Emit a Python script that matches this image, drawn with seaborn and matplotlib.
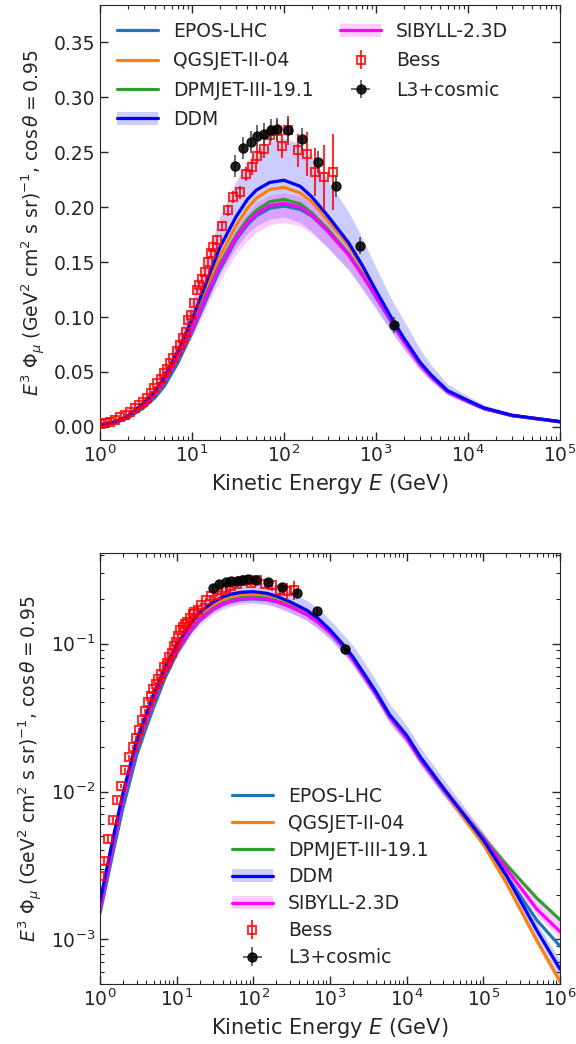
import numpy as np
import pandas as pd
import matplotlib
matplotlib.use('Agg')
import matplotlib.pyplot as plt
import seaborn as sns
from matplotlib.patches import Patch
from matplotlib.lines import Line2D
from matplotlib.ticker import FormatStrFormatter

# model energies (GeV)
energy = [1, 1.5, 2, 3, 4, 5, 7, 10, 15, 20, 30, 40, 50, 70, 100, 150, 200, 300, 500, 700,
          1e3, 1.5e3, 2e3, 3e3, 4e3, 6e3, 1e4, 1.5e4, 3e4, 1e5, 2e5, 5e5, 1e6]

# E^3 flux for each hadronic model
epos = [0.0015, 0.0040, 0.0078, 0.0175, 0.027, 0.037, 0.058, 0.086, 0.120, 0.143, 0.170, 0.184,
        0.192, 0.199, 0.201, 0.198, 0.192, 0.178, 0.157, 0.139, 0.118, 0.094, 0.078, 0.057,
        0.0455, 0.032, 0.023, 0.0165, 0.0102, 0.0046, 0.0027, 0.00135, 0.0009]
qgsjet = [0.0017, 0.0048, 0.0094, 0.021, 0.0315, 0.043, 0.066, 0.094, 0.130, 0.155, 0.183, 0.199,
          0.208, 0.216, 0.218, 0.213, 0.205, 0.188, 0.165, 0.146, 0.122, 0.096, 0.080, 0.058,
          0.046, 0.0325, 0.0235, 0.0168, 0.0103, 0.0044, 0.0024, 0.00098, 0.00052]
dpmjet = [0.0017, 0.0046, 0.0091, 0.0205, 0.0305, 0.042, 0.064, 0.091, 0.125, 0.148, 0.174, 0.189,
          0.197, 0.205, 0.207, 0.203, 0.195, 0.180, 0.158, 0.140, 0.119, 0.095, 0.078, 0.057,
          0.0455, 0.032, 0.023, 0.0166, 0.0104, 0.0049, 0.0032, 0.0019, 0.00136]
sibyll = [0.0016, 0.0045, 0.0089, 0.020, 0.030, 0.041, 0.063, 0.089, 0.123, 0.146, 0.172, 0.186,
          0.194, 0.2015, 0.2035, 0.200, 0.193, 0.178, 0.157, 0.139, 0.119, 0.095, 0.078, 0.057,
          0.0455, 0.032, 0.023, 0.0166, 0.0104, 0.0048, 0.0030, 0.0016, 0.00113]
sibyll_lo = [0.0015, 0.0041, 0.0081, 0.0183, 0.0275, 0.0375, 0.0575, 0.081, 0.112, 0.133, 0.157,
             0.170, 0.177, 0.184, 0.186, 0.183, 0.176, 0.163, 0.144, 0.127, 0.109, 0.087, 0.071,
             0.052, 0.0415, 0.029, 0.021, 0.0152, 0.0095, 0.0044, 0.0027, 0.00145, 0.00102]
sibyll_hi = [0.0017, 0.0047, 0.0093, 0.021, 0.0315, 0.043, 0.066, 0.094, 0.129, 0.153, 0.181,
             0.195, 0.204, 0.211, 0.213, 0.210, 0.203, 0.187, 0.165, 0.146, 0.125, 0.100, 0.082,
             0.060, 0.048, 0.0337, 0.0243, 0.0176, 0.0111, 0.0053, 0.0034, 0.0019, 0.00132]
ddm = [0.0018, 0.0050, 0.0098, 0.022, 0.033, 0.045, 0.069, 0.098, 0.136, 0.163, 0.191, 0.207,
       0.2155, 0.2225, 0.2245, 0.219, 0.2095, 0.192, 0.168, 0.148, 0.124, 0.098, 0.081, 0.059,
       0.047, 0.033, 0.024, 0.0172, 0.0106, 0.0047, 0.0027, 0.00115, 0.00063]
ddm_lo = [0.0015, 0.0043, 0.0083, 0.0187, 0.028, 0.038, 0.0585, 0.083, 0.116, 0.139, 0.163, 0.176,
          0.183, 0.189, 0.191, 0.186, 0.178, 0.163, 0.143, 0.126, 0.107, 0.085, 0.071, 0.052,
          0.0415, 0.029, 0.0212, 0.0152, 0.0094, 0.0042, 0.0024, 0.00100, 0.00054]
ddm_hi = [0.0021, 0.0058, 0.0115, 0.026, 0.0385, 0.053, 0.081, 0.115, 0.159, 0.191, 0.223, 0.242,
          0.252, 0.260, 0.263, 0.257, 0.246, 0.224, 0.196, 0.173, 0.145, 0.115, 0.097, 0.071,
          0.056, 0.039, 0.028, 0.020, 0.0122, 0.0053, 0.0030, 0.0013, 0.00072]

# Bess data
bess_E = [1.0, 1.13, 1.28, 1.46, 1.65, 1.87, 2.12, 2.40, 2.68, 2.96, 3.21, 3.55, 3.86, 4.2, 4.57,
          4.97, 5.31, 5.77, 6.26, 6.81, 7.40, 7.92, 8.6, 9.1, 9.66, 10.5, 11.2, 12.0, 12.7, 13.8,
          14.8, 16.1, 17.0, 18.7, 21.0, 24.4, 28.1, 33.2, 38.6, 44.4, 51.5, 60.6, 70.6, 83.6,
          94.3, 111, 141, 176, 220, 275, 343]
bess_flux = [0.0027, 0.0034, 0.0048, 0.0064, 0.0088, 0.0109, 0.0139, 0.017, 0.020, 0.023, 0.026,
             0.0306, 0.035, 0.040, 0.044, 0.049, 0.053, 0.058, 0.0625, 0.069, 0.0745, 0.0806,
             0.0866, 0.097, 0.102, 0.113, 0.1245, 0.129, 0.135, 0.141, 0.150, 0.158, 0.164,
             0.170, 0.183, 0.197, 0.209, 0.2136, 0.230, 0.2366, 0.247, 0.253, 0.266, 0.269,
             0.256, 0.270, 0.252, 0.248, 0.232, 0.227, 0.232]
bess_err = [0.0002, 0.0002, 0.0003, 0.0003, 0.0004, 0.0004, 0.0005, 0.0006, 0.0007, 0.0008, 0.0009,
            0.001, 0.001, 0.0012, 0.0013, 0.0014, 0.0015, 0.0016, 0.0017, 0.0018, 0.002, 0.002,
            0.0022, 0.0024, 0.0025, 0.0027, 0.003, 0.003, 0.0032, 0.0034, 0.0036, 0.004, 0.004,
            0.0043, 0.0046, 0.005, 0.0055, 0.006, 0.0065, 0.007, 0.0075, 0.008, 0.009, 0.010,
            0.011, 0.013, 0.015, 0.020, 0.022, 0.030, 0.035]

# L3+cosmic data
l3_E = [29.4, 36.1, 43.6, 51.5, 60.6, 71.6, 85, 109.5, 155.6, 235, 366, 670, 1570]
l3_flux = [0.2373, 0.254, 0.2594, 0.2645, 0.2664, 0.270, 0.2715, 0.2706, 0.2624, 0.2412, 0.219,
           0.165, 0.0927]
l3_err = [0.010, 0.010, 0.010, 0.010, 0.010, 0.010, 0.010, 0.010, 0.010, 0.010, 0.010, 0.008, 0.007]

models = pd.DataFrame({'E': energy, 'EPOS-LHC': epos, 'QGSJET-II-04': qgsjet,
                       'DPMJET-III-19.1': dpmjet, 'SIBYLL-2.3D': sibyll, 'DDM': ddm})

sns.set_style('ticks')
plt.rcParams['font.family'] = ['DejaVu Sans']
plt.rcParams['mathtext.fontset'] = 'dejavusans'

colors = {'EPOS-LHC': '#1f77b4', 'QGSJET-II-04': '#ff7f0e', 'DPMJET-III-19.1': '#2ca02c',
          'SIBYLL-2.3D': '#ff00ff', 'DDM': '#0000ff'}

fig = plt.figure(figsize=(5.76, 10.44), dpi=100)
ax1 = fig.add_axes([0.1736, 0.5785, 0.7986, 0.4167])
ax2 = fig.add_axes([0.1736, 0.0575, 0.7986, 0.4128])

tick_fs = 13.5
xlabel_fs = 15
ylabel_fs = 13.5
legend_fs = 13.5


def draw(ax):
    ax.fill_between(energy, ddm_lo, ddm_hi, color='#0000ff', alpha=0.2, lw=0)
    ax.fill_between(energy, sibyll_lo, sibyll_hi, color='#ff00ff', alpha=0.2, lw=0)
    for name in ['EPOS-LHC', 'QGSJET-II-04', 'DPMJET-III-19.1', 'SIBYLL-2.3D', 'DDM']:
        sns.lineplot(data=models, x='E', y=name, ax=ax, color=colors[name], lw=2.3,
                     legend=False)
    ax.errorbar(bess_E, bess_flux, yerr=bess_err, fmt='s', ms=5.5, mfc='none', mec='red',
                mew=1.5, ecolor=(1, 0, 0, 0.5), elinewidth=1.5, alpha=0.8, zorder=5)
    ax.errorbar(l3_E, l3_flux, yerr=l3_err, xerr=[e * 0.03 for e in l3_E], fmt='o', ms=6.5,
                color='black', ecolor='#444444', elinewidth=1.3, alpha=0.85, zorder=6)
    ax.set_xscale('log')
    ax.tick_params(which='both', direction='in', top=True, right=True, labelsize=tick_fs)
    ax.tick_params(which='major', length=6, width=1.0)
    ax.tick_params(which='minor', length=3, width=0.8)
    ax.set_xlabel('Kinetic Energy $E$ (GeV)', fontsize=xlabel_fs)
    ax.set_ylabel(r'$E^3\ \Phi_\mu$ (GeV$^2$ cm$^2$ s sr)$^{-1}$, $\cos\theta = 0.95$',
                  fontsize=ylabel_fs)


def handles(ax):
    h = [Line2D([], [], color=colors['EPOS-LHC'], lw=2.3),
         Line2D([], [], color=colors['QGSJET-II-04'], lw=2.3),
         Line2D([], [], color=colors['DPMJET-III-19.1'], lw=2.3),
         (Patch(color='#0000ff', alpha=0.2, lw=0), Line2D([], [], color='#0000ff', lw=2.3)),
         (Patch(color='#ff00ff', alpha=0.2, lw=0), Line2D([], [], color='#ff00ff', lw=2.3)),
         ax.containers[0], ax.containers[1]]
    return h


labels = ['EPOS-LHC', 'QGSJET-II-04', 'DPMJET-III-19.1', 'DDM', 'SIBYLL-2.3D', 'Bess', 'L3+cosmic']

draw(ax1)
ax1.set_xlim(1, 1e5)
ax1.set_ylim(-0.012, 0.384)
ax1.set_yticks(np.arange(0, 0.36, 0.05))
ax1.yaxis.set_major_formatter(FormatStrFormatter('%.2f'))
ax1.legend(handles(ax1), labels, loc='upper left', ncol=2, frameon=False,
           fontsize=legend_fs, handlelength=2.2, handletextpad=0.8, labelspacing=0.55,
           columnspacing=1.4, borderaxespad=0.5)

draw(ax2)
ax2.set_yscale('log')
ax2.set_xlim(1, 1e6)
ax2.set_ylim(5e-4, 0.41)
ax2.legend(handles(ax2), labels, loc='lower center', frameon=False, fontsize=legend_fs,
           handlelength=2.2, handletextpad=0.8, labelspacing=0.42)

fig.savefig('out.png', dpi=100)
